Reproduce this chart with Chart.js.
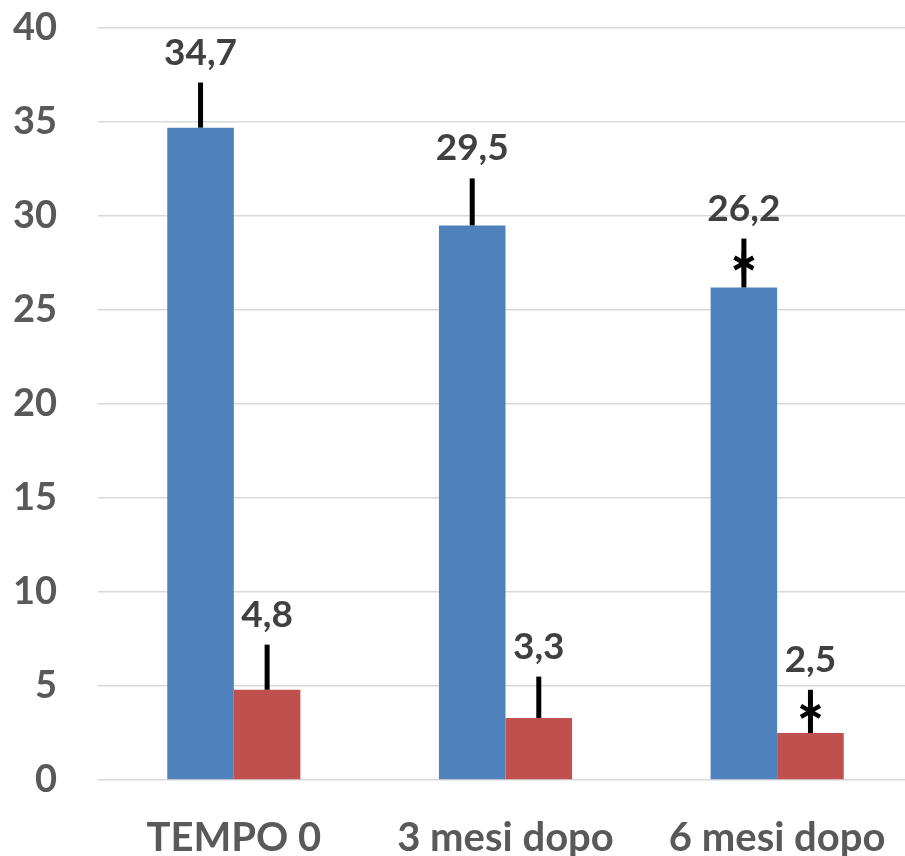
<!DOCTYPE html>
<html lang="it">
<head>
    <meta charset="UTF-8">
    <title>Confronto nel tempo</title>
    <script src="https://cdn.jsdelivr.net/npm/chart.js"></script>
    <style>
        html, body { margin: 0; padding: 0; background: #fff; overflow: hidden; }
        .chart-container { position: relative; width: 913px; height: 856px; }
    </style>
</head>
<body>
    <div class="chart-container">
        <canvas id="barChart"></canvas>
    </div>

    <script>
        // chart data
        const categories = ['TEMPO 0', '3 mesi dopo', '6 mesi dopo'];
        const seriesA = [34.7, 29.5, 26.2];
        const seriesB = [4.8, 3.3, 2.5];
        // upper error bar lengths
        const errorsA = [2.4, 2.5, 2.6];
        const errorsB = [2.4, 2.2, 2.3];
        // asterisk (significant) markers
        const starA = [false, false, true];
        const starB = [false, false, true];
        const yTicks = [0, 5, 10, 15, 20, 25, 30, 35, 40];

        const errors = [errorsA, errorsB];
        const stars = [starA, starB];
        const fontFamily = 'Lato, "DejaVu Sans", sans-serif';

        function drawStar(ctx, x, y) {
            ctx.save();
            ctx.strokeStyle = '#000';
            ctx.lineWidth = 4.5;
            ctx.lineCap = 'butt';
            const r = 11;
            [90, 30, 150].forEach(deg => {
                const a = deg * Math.PI / 180;
                ctx.beginPath();
                ctx.moveTo(x - r * Math.cos(a), y - r * Math.sin(a));
                ctx.lineTo(x + r * Math.cos(a), y + r * Math.sin(a));
                ctx.stroke();
            });
            ctx.restore();
        }

        // error bars, asterisks and value labels
        const annotatePlugin = {
            id: 'annotateBars',
            afterDatasetsDraw(chart) {
                const ctx = chart.ctx;
                const yScale = chart.scales.y;
                chart.data.datasets.forEach((ds, di) => {
                    const meta = chart.getDatasetMeta(di);
                    meta.data.forEach((bar, i) => {
                        const v = ds.data[i];
                        const x = bar.x;
                        const yBase = yScale.getPixelForValue(v);
                        const yTop = yScale.getPixelForValue(v + errors[di][i]);

                        ctx.save();
                        ctx.strokeStyle = '#000';
                        ctx.lineWidth = 5;
                        ctx.beginPath();
                        ctx.moveTo(x, yBase);
                        ctx.lineTo(x, yTop);
                        ctx.stroke();
                        ctx.restore();

                        if (stars[di][i]) {
                            drawStar(ctx, x, (yBase + yTop) / 2);
                        }

                        ctx.save();
                        ctx.fillStyle = '#404040';
                        ctx.font = 'bold 37px ' + fontFamily;
                        ctx.textAlign = 'center';
                        ctx.textBaseline = 'alphabetic';
                        ctx.fillText(v.toFixed(1).replace('.', ','), x, yTop - 18);
                        ctx.restore();
                    });
                });
            }
        };

        const ctx = document.getElementById('barChart').getContext('2d');
        new Chart(ctx, {
            type: 'bar',
            data: {
                labels: categories,
                datasets: [
                    {
                        label: 'A',
                        data: seriesA,
                        backgroundColor: '#4F81BD',
                        categoryPercentage: 0.49,
                        barPercentage: 1.0
                    },
                    {
                        label: 'B',
                        data: seriesB,
                        backgroundColor: '#C0504D',
                        categoryPercentage: 0.49,
                        barPercentage: 1.0
                    }
                ]
            },
            options: {
                responsive: true,
                maintainAspectRatio: false,
                animation: false,
                layout: {
                    padding: { top: 28, right: 0, left: 0, bottom: 0 }
                },
                plugins: {
                    legend: { display: false },
                    tooltip: { enabled: false }
                },
                scales: {
                    x: {
                        grid: { display: false },
                        border: { display: false },
                        ticks: {
                            color: '#595959',
                            font: { family: fontFamily, size: 40, weight: 'bold' },
                            padding: 26,
                            maxRotation: 0
                        },
                        afterFit(scale) { scale.height = 76; }
                    },
                    y: {
                        min: 0,
                        max: 40,
                        afterBuildTicks(scale) {
                            scale.ticks = yTicks.map(v => ({ value: v }));
                        },
                        grid: {
                            color: '#d9d9d9',
                            lineWidth: 1.5,
                            drawTicks: false
                        },
                        border: { display: false },
                        ticks: {
                            color: '#595959',
                            font: { family: fontFamily, size: 38, weight: 'bold' },
                            padding: 41
                        },
                        afterFit(scale) {
                            scale.width = 98;
                            scale.paddingTop = 0;
                            scale.paddingBottom = 0;
                        }
                    }
                }
            },
            plugins: [annotatePlugin]
        });
    </script>
</body>
</html>
